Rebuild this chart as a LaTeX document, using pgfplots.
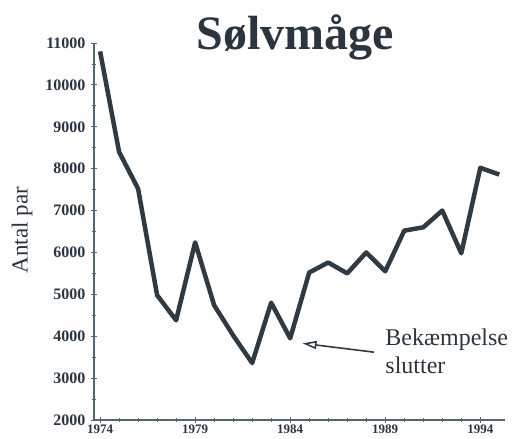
\documentclass[border=0pt]{standalone}
\usepackage{fontspec}
\setmainfont{Liberation Serif}
\usepackage{pgfplots}
\pgfplotsset{compat=1.18}
\usetikzlibrary{arrows.meta}
\definecolor{inkline}{HTML}{2E3A44}
\definecolor{axisblue}{HTML}{4F6875}
\definecolor{inktext}{HTML}{2B3540}

\pgfplotstableread{
year value
1974 10800
1975 8400
1976 7520
1977 4980
1978 4380
1979 6240
1980 4740
1981 4020
1982 3360
1983 4800
1984 3950
1985 5520
1986 5760
1987 5500
1988 6000
1989 5550
1990 6520
1991 6600
1992 7000
1993 5980
1994 8020
1995 7860
}\solvmaage

\begin{document}
\begin{tikzpicture}
  \begin{axis}[
      scale only axis, width=411pt, height=377pt,
      at={(0pt,0pt)}, anchor=origin,
      xmin=1973.68, xmax=1995.3, ymin=2000, ymax=11000,
      axis lines=left, axis line style={axisblue, line width=1.2pt, -},
      xtick={1974,1979,1984,1989,1994}, minor x tick num=4,
      ytick={2000,3000,...,11000}, minor y tick num=1,
      scaled ticks=false,
      tick align=center, major tick length=6pt, minor tick length=4pt,
      tick style={axisblue, line width=0.8pt},
      /pgf/number format/1000 sep={},
      /pgf/number format/assume math mode=true,
      ticklabel style={text=inktext},
      yticklabel style={font=\fontsize{16}{17}\selectfont\bfseries, xshift=-2pt},
      xticklabel style={font=\fontsize{13}{14}\selectfont\bfseries, inner sep=1pt, yshift=-1pt},
      clip=false]
    \addplot[inkline, line width=4.5pt, line join=round] table[x=year, y=value] {\solvmaage};
    \draw[inkline, line width=1.6pt, -{Triangle[open, length=14pt, width=8pt]}]
      (axis cs:1988.4,3620) -- (axis cs:1984.65,3830);
    \node[anchor=base west, inner sep=0pt, text=inktext, font=\fontsize{24}{26}\selectfont]
      at (axis cs:1989.0,3790) {Bekæmpelse};
    \node[anchor=base west, inner sep=0pt, text=inktext, font=\fontsize{24}{26}\selectfont]
      at (axis cs:1989.0,3120) {slutter};
  \end{axis}
  \node[anchor=base, inner sep=0pt, text=inktext, font=\fontsize{48}{52}\selectfont\bfseries]
    at (201pt,370pt) {Sølvmåge};
  \node[rotate=90, inner sep=0pt, text=inktext, font=\fontsize{23}{25}\selectfont]
    at (-72pt,190pt) {Antal par};
  \pgfresetboundingbox
  \useasboundingbox (-94pt,-19pt) rectangle (420pt,420pt);
\end{tikzpicture}
\end{document}
